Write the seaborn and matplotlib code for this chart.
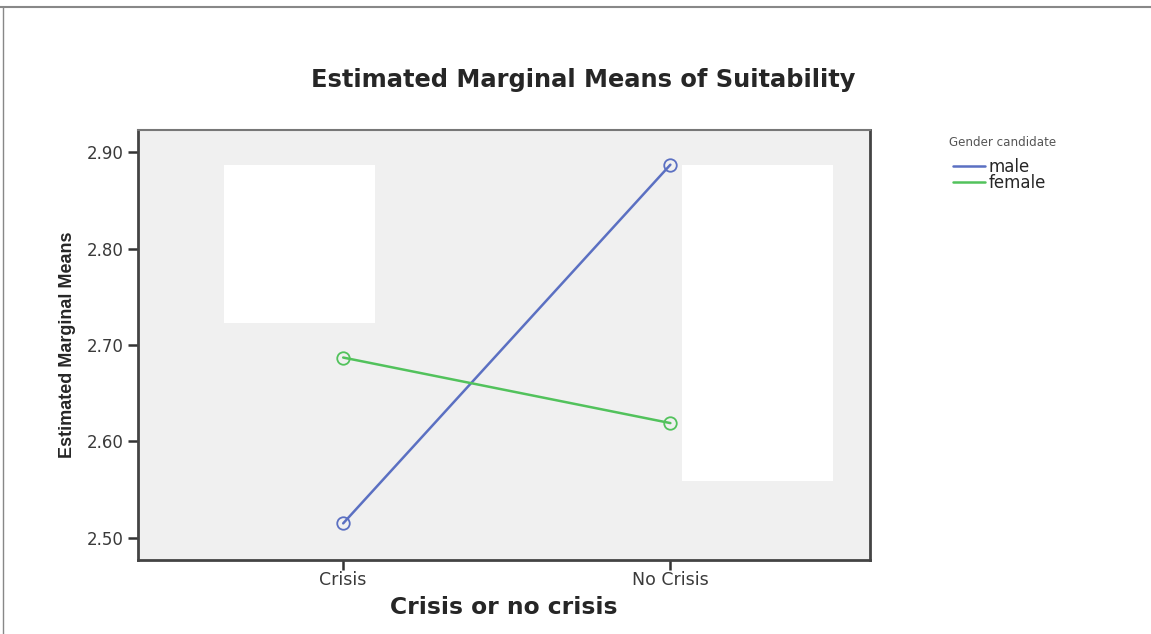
"""
Estimated marginal means plot (SPSS style) redrawn with seaborn
"""

import pandas as pd
import matplotlib
matplotlib.use("Agg")
import matplotlib.pyplot as plt
from matplotlib.patches import Rectangle
from matplotlib.lines import Line2D
import seaborn as sns

# data
conditions = ["Crisis", "No Crisis"]
male_means = [2.515, 2.887]
female_means = [2.687, 2.619]
genders = ["male", "female"]
yticks = [2.50, 2.60, 2.70, 2.80, 2.90]

palette = {"male": "#5b70c2", "female": "#52c25c"}

df = pd.DataFrame({
    "condition": conditions * 2,
    "mean": male_means + female_means,
    "gender": [genders[0]] * 2 + [genders[1]] * 2,
})
df["xpos"] = df["condition"].map({c: i for i, c in enumerate(conditions)})

sns.set_theme(style="ticks")
plt.rcParams["font.family"] = ["DejaVu Sans"]

fig = plt.figure(figsize=(11.51, 6.34), dpi=100)
ax = fig.add_axes([138 / 1151, 1 - 560 / 634, 732 / 1151, 430 / 634])
ax.set_facecolor("#f0f0f0")

sns.lineplot(data=df, x="xpos", y="mean", hue="gender", hue_order=genders,
             palette=palette, marker="o", markersize=9, markerfacecolor="none",
             markeredgewidth=1.3, linewidth=1.8, ax=ax, legend=False)
# make marker edges follow line colour
for line in ax.lines:
    line.set_markeredgecolor(line.get_color())

ax.set_xlim(-0.627, 1.61)
ax.set_ylim(2.477, 2.923)

# white cover boxes present in the original image
ax.add_patch(Rectangle((224 / 1151, 1 - 323 / 634), 151 / 1151, 158 / 634,
                       transform=fig.transFigure, facecolor="white",
                       edgecolor="none", zorder=0.5))
ax.add_patch(Rectangle((682 / 1151, 1 - 481 / 634), 151 / 1151, 316 / 634,
                       transform=fig.transFigure, facecolor="white",
                       edgecolor="none", zorder=0.5))

ax.set_xticks(range(len(conditions)))
ax.set_xticklabels(conditions, fontsize=12.5, color="#3a3a3a")
ax.set_yticks(yticks)
ax.set_yticklabels([f"{v:.2f}" for v in yticks], fontsize=12, color="#3a3a3a")
ax.tick_params(direction="out", length=7, width=1.8, color="#333333", pad=3)
ax.tick_params(axis="x", pad=1)

for side in ["left", "bottom", "right"]:
    ax.spines[side].set_color("#444444")
    ax.spines[side].set_linewidth(2)
ax.spines["top"].set_color("#777777")
ax.spines["top"].set_linewidth(1.5)
ax.spines["top"].set_visible(True)
ax.spines["right"].set_visible(True)

ax.set_xlabel("Crisis or no crisis", fontsize=16.8, fontweight="bold",
              labelpad=5)
ax.set_ylabel("Estimated Marginal Means", fontsize=13, fontweight="bold",
              family=["Liberation Sans", "DejaVu Sans"], labelpad=8)

fig.text(583 / 1151, 1 - 80 / 634, "Estimated Marginal Means of Suitability",
         ha="center", va="center", fontsize=17.4, fontweight="bold")

# legend in the right margin
fig.text(949 / 1151, 1 - 143 / 634, "Gender candidate", ha="left",
         va="center", fontsize=8.6, color="#555555")
handles = [Line2D([0], [0], color=palette[g], lw=1.8) for g in genders]
leg = fig.legend(handles, genders, loc="upper left",
                 bbox_to_anchor=(945 / 1151, 1 - 150 / 634),
                 frameon=False, fontsize=12,
                 handlelength=1.9, handletextpad=0.2, labelspacing=-0.12,
                 borderpad=0)

# outer frame lines of the screenshot
fig.add_artist(Line2D([0, 1], [1 - 7 / 634] * 2, transform=fig.transFigure,
                      color="#888888", lw=1.5))
fig.add_artist(Line2D([3 / 1151] * 2, [0, 1 - 7 / 634], transform=fig.transFigure,
                      color="#888888", lw=1))

fig.savefig("out.png", dpi=100, facecolor="white")
plt.close(fig)
